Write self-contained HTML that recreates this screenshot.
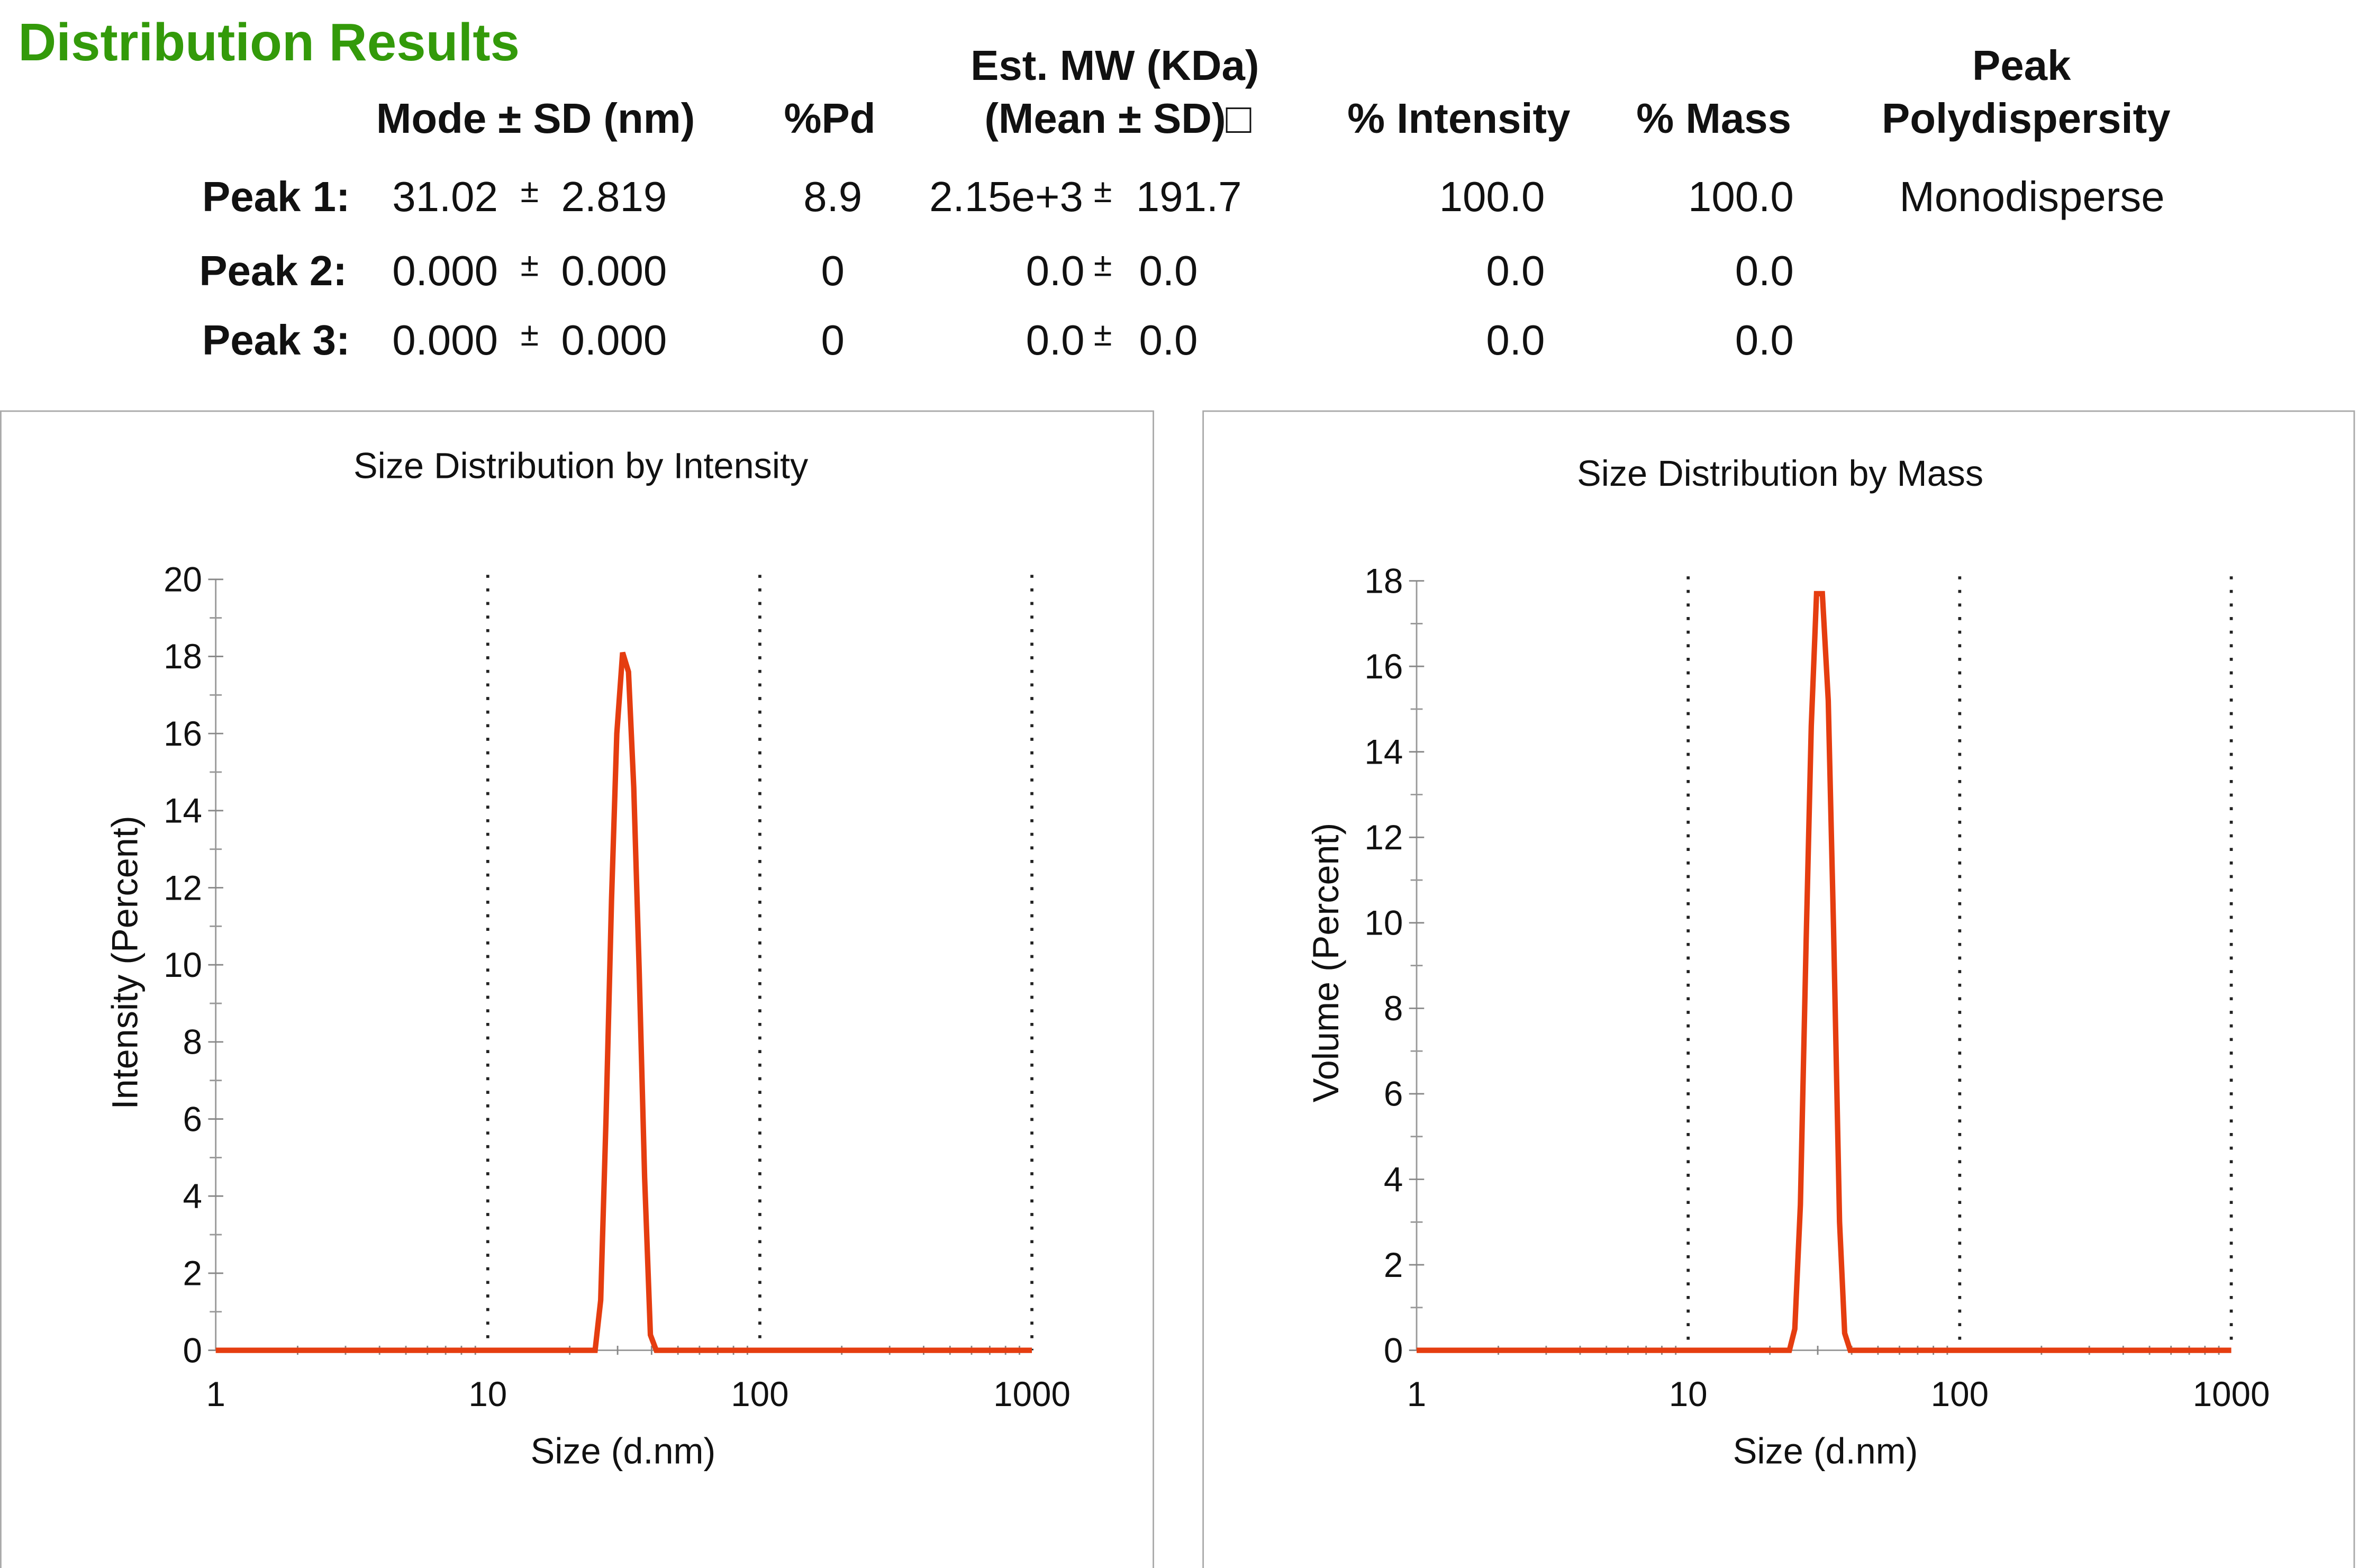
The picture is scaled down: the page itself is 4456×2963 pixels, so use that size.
<!DOCTYPE html>
<html><head><meta charset="utf-8"><style>
html,body{margin:0;padding:0;background:#fff}
svg{display:block}
text{font-family:"Liberation Sans",Arial,sans-serif;fill:#111}
.h{font-weight:bold;font-size:28px}
.v{font-size:28px}
.pm{font-size:22px}
.tk{font-size:23px}
.ax{font-size:24px}
</style></head><body>
<svg id="root" width="4456" height="2963" viewBox="0 0 1563 1039.3" xmlns="http://www.w3.org/2000/svg">
<text x="12" y="40" style="font-size:35px;font-weight:bold;fill:#339a0a">Distribution Results</text>
<g>
<text class="h" x="355" y="88" text-anchor="middle">Mode ± SD (nm)</text>
<text class="h" x="550" y="88" text-anchor="middle">%Pd</text>
<text class="h" x="739" y="53" text-anchor="middle">Est. MW (KDa)</text>
<text class="h" x="741" y="88" text-anchor="middle">(Mean ± SD)□</text>
<text class="h" x="967" y="88" text-anchor="middle">% Intensity</text>
<text class="h" x="1136" y="88" text-anchor="middle">% Mass</text>
<text class="h" x="1340" y="53" text-anchor="middle">Peak</text>
<text class="h" x="1343" y="88" text-anchor="middle">Polydispersity</text>

<text class="h" x="134" y="140">Peak 1:</text>
<text class="v" x="260" y="140">31.02</text>
<text class="pm" x="345" y="134">±</text>
<text class="v" x="372" y="140">2.819</text>
<text class="v" x="552" y="140" text-anchor="middle">8.9</text>
<text class="v" x="616" y="140">2.15e+3</text>
<text class="pm" x="725" y="134">±</text>
<text class="v" x="753" y="140">191.7</text>
<text class="v" x="1024" y="140" text-anchor="end">100.0</text>
<text class="v" x="1189" y="140" text-anchor="end">100.0</text>
<text class="v" x="1259" y="140">Monodisperse</text>

<text class="h" x="132" y="189">Peak 2:</text>
<text class="v" x="260" y="189">0.000</text>
<text class="pm" x="345" y="183">±</text>
<text class="v" x="372" y="189">0.000</text>
<text class="v" x="552" y="189" text-anchor="middle">0</text>
<text class="v" x="680" y="189">0.0</text>
<text class="pm" x="725" y="183">±</text>
<text class="v" x="755" y="189">0.0</text>
<text class="v" x="1024" y="189" text-anchor="end">0.0</text>
<text class="v" x="1189" y="189" text-anchor="end">0.0</text>

<text class="h" x="134" y="235">Peak 3:</text>
<text class="v" x="260" y="235">0.000</text>
<text class="pm" x="345" y="229">±</text>
<text class="v" x="372" y="235">0.000</text>
<text class="v" x="552" y="235" text-anchor="middle">0</text>
<text class="v" x="680" y="235">0.0</text>
<text class="pm" x="725" y="229">±</text>
<text class="v" x="755" y="235">0.0</text>
<text class="v" x="1024" y="235" text-anchor="end">0.0</text>
<text class="v" x="1189" y="235" text-anchor="end">0.0</text>
</g>
<rect x="0.5" y="272.5" width="764" height="768" fill="none" stroke="#aaa" stroke-width="1"/>
<rect x="797.5" y="272.5" width="763" height="768" fill="none" stroke="#aaa" stroke-width="1"/>
<g id="charts"></g>
</svg>
<script>
const xTickValues = [1, 10, 100, 1000];
const xTickLabels = ["1", "10", "100", "1000"];
const intensitySizes = [1, 24.8, 26.0, 27.2, 28.5, 29.8, 31.3, 32.9, 34.4, 36.0, 37.7, 39.6, 41.6, 1000];
const intensityValues = [0, 0, 1.3, 6.0, 11.7, 16.0, 18.1, 17.6, 14.6, 9.9, 4.5, 0.4, 0, 0];
const intensityYTicks = [0, 2, 4, 6, 8, 10, 12, 14, 16, 18, 20];
const massSizes = [1, 23.6, 24.7, 25.9, 27.2, 28.4, 29.7, 31.2, 32.8, 34.3, 36.1, 37.7, 39.5, 1000];
const massValues = [0, 0, 0.5, 3.4, 9.6, 14.6, 17.7, 17.7, 15.2, 9.9, 3.0, 0.4, 0, 0];
const massYTicks = [0, 2, 4, 6, 8, 10, 12, 14, 16, 18];

const NS = "http://www.w3.org/2000/svg";
const root = document.getElementById("charts");
function mk(tag, attrs, parent) {
  const e = document.createElementNS(NS, tag);
  for (const k in attrs) e.setAttribute(k, attrs[k]);
  parent.appendChild(e);
  return e;
}
function chart(cfg) {
  const g = mk("g", {}, root);
  
  
  const x = v => cfg.x0 + Math.log10(v) / 3 * (cfg.x1 - cfg.x0);
  const y = v => cfg.y0 - v / cfg.ymax * (cfg.y0 - cfg.y1);
  const t = mk("text", {x: cfg.titleX, y: cfg.titleY, "text-anchor": "middle", class: "ax"}, g);
  t.textContent = cfg.title;
  
  
  const ya = mk("line", {x1: cfg.x0, x2: cfg.x0, y1: y(cfg.ymax), y2: cfg.y0, stroke: "#999", "stroke-width": 1}, g);
  
  
  const xa = mk("line", {x1: cfg.x0, x2: cfg.x1, y1: cfg.y0, y2: cfg.y0, stroke: "#999", "stroke-width": 1}, g);
  
  
  for (let i = 0; i < cfg.yTicks.length; i++) {
    const v = cfg.yTicks[i];
    const tl = mk("line", {x1: cfg.x0 - 5, x2: cfg.x0 + 5, y1: y(v), y2: y(v), stroke: "#888", "stroke-width": 1}, g);
    
    
    const lb = mk("text", {x: cfg.x0 - 9, y: y(v) + 8, "text-anchor": "end", class: "tk"}, g);
    lb.textContent = String(v);
    
    
    if (i < cfg.yTicks.length - 1) {
      const mv = (v + cfg.yTicks[i + 1]) / 2;
      const ml = mk("line", {x1: cfg.x0 - 4, x2: cfg.x0 + 4, y1: y(mv), y2: y(mv), stroke: "#999", "stroke-width": 1}, g);
      
      
    }
  }
  for (let d = 1; d <= 100; d *= 10) {
    for (let m = 2; m <= 9; m++) {
      const ml = mk("line", {x1: x(d * m), x2: x(d * m), y1: cfg.y0 - 3, y2: cfg.y0 + 3, stroke: "#888", "stroke-width": 1}, g);
      
      
    }
  }
  for (let i = 0; i < xTickValues.length; i++) {
    const v = xTickValues[i];
    if (i > 0) {
      const gl = mk("line", {x1: x(v), x2: x(v), y1: cfg.y1 - 3, y2: cfg.y0, stroke: "#222", "stroke-width": 2, "stroke-dasharray": "2 7"}, g);
      
      
    }
    const lb = mk("text", {x: x(v), y: 932, "text-anchor": "middle", class: "tk"}, g);
    lb.textContent = xTickLabels[i];
    
    
  }
  const xt = mk("text", {x: cfg.xTitleX, y: 970, "text-anchor": "middle", class: "ax"}, g);
  xt.textContent = "Size (d.nm)";
  
  
  const yt = mk("text", {x: 0, y: 0, "text-anchor": "middle", class: "ax", transform: "translate(" + cfg.yTitleX + ",638) rotate(-90)"}, g);
  yt.textContent = cfg.yTitle;
  
  
  const pts = cfg.sizes.map((s, i) => x(s).toFixed(2) + "," + y(cfg.values[i]).toFixed(2)).join(" ");
  const pl = mk("polyline", {points: pts, fill: "none", stroke: "#e53d10", "stroke-width": 3.6, "stroke-linejoin": "miter"}, g);
  
  
}
chart({name: "intensity-chart", x0: 143, x1: 684, y0: 895, y1: 384, ymax: 20, yTicks: intensityYTicks,
  sizes: intensitySizes, values: intensityValues, title: "Size Distribution by Intensity", titleX: 385, titleY: 317,
  xTitleX: 413, yTitle: "Intensity (Percent)", yTitleX: 91});
chart({name: "mass-chart", x0: 939, x1: 1479, y0: 895, y1: 385, ymax: 18, yTicks: massYTicks,
  sizes: massSizes, values: massValues, title: "Size Distribution by Mass", titleX: 1180, titleY: 322,
  xTitleX: 1210, yTitle: "Volume (Percent)", yTitleX: 887});
</script>
</body></html>
